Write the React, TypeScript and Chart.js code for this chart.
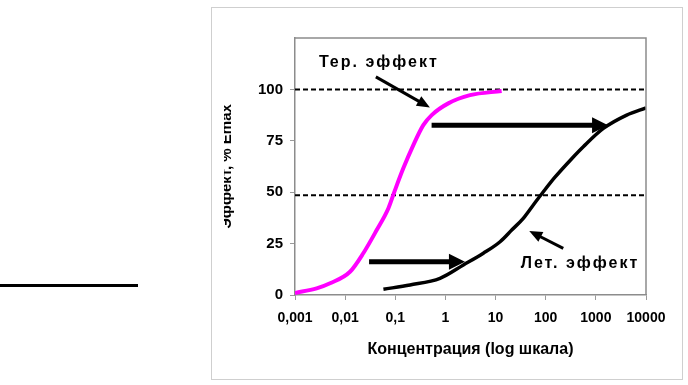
import React, { useEffect, useRef } from "react";
import { Chart, registerables } from "chart.js";

Chart.register(...registerables);

// ---- data ----
const terConc = [0.001, 0.0027, 0.005, 0.0125, 0.023, 0.0426, 0.0726, 0.0986, 0.1445, 0.229, 0.362, 0.532, 1.14, 3.09, 13.2];
const terEffect = [1.0, 3.2, 5.7, 11.3, 20.3, 31.6, 42.1, 51, 61.6, 72.9, 82.6, 87.5, 93.2, 97.2, 99.2];
const letConc = [0.058, 0.197, 0.78, 2.28, 5.7, 12.3, 21, 35.7, 56.6, 89.6, 153, 330, 562, 1410, 4120, 10000];
const letEffect = [2.8, 4.9, 8.1, 14.6, 20.3, 25.9, 31.6, 37.3, 43.8, 50.2, 57.3, 66.3, 72.1, 81, 87.5, 91];
const xTicks = [0.001, 0.01, 0.1, 1, 10, 100, 1000, 10000];
const xTickLabels = ["0,001", "0,01", "0,1", "1", "10", "100", "1000", "10000"];
const yTicks = [0, 25, 50, 75, 100];
const yMax = 125;
const refLevels = [100, 48.5];
// arrows in data units: [x0, y0, x1(tip), y1(tip)]
const shiftArrows = [
  [0.53, 82.6, 1750, 82.6],
  [0.03, 16.2, 2.45, 16.2],
];
const pointerArrows = [
  [0.041, 106.1, 0.49, 91.2],
  [224, 22.7, 47, 31.1],
];
const labelTexts = ["Тер. эффект", "Лет. эффект"];
const labelAnchors = [
  [0.047, 112.8],
  [483, 15.1],
];
const xTitle = "Концентрация (log шкала)";
const yTitle = "Эффект, % Emax";

const FONT = "'Liberation Sans', Arial, sans-serif";

function drawArrow(ctx, x0, y0, x1, y1, w, headLen, headW) {
  const dx = x1 - x0;
  const dy = y1 - y0;
  const len = Math.hypot(dx, dy);
  const ux = dx / len;
  const uy = dy / len;
  const bx = x1 - ux * headLen;
  const by = y1 - uy * headLen;
  ctx.save();
  ctx.strokeStyle = "#000";
  ctx.fillStyle = "#000";
  ctx.lineWidth = w;
  ctx.lineCap = "butt";
  ctx.beginPath();
  ctx.moveTo(x0, y0);
  ctx.lineTo(bx + ux * 1, by + uy * 1);
  ctx.stroke();
  ctx.beginPath();
  ctx.moveTo(x1, y1);
  ctx.lineTo(bx - uy * headW / 2, by + ux * headW / 2);
  ctx.lineTo(bx + uy * headW / 2, by - ux * headW / 2);
  ctx.closePath();
  ctx.fill();
  ctx.restore();
}

const decorPlugin = {
  id: "decor",
  beforeDraw(chart) {
    const ctx = chart.ctx;
    ctx.save();
    ctx.fillStyle = "#fff";
    ctx.fillRect(0, 0, chart.width, chart.height);
    ctx.restore();
  },
  afterDatasetsDraw(chart) {
    const ctx = chart.ctx;
    const xs = chart.scales.x;
    const ys = chart.scales.y;
    shiftArrows.forEach((a) => {
      drawArrow(ctx, xs.getPixelForValue(a[0]), ys.getPixelForValue(a[1]), xs.getPixelForValue(a[2]), ys.getPixelForValue(a[3]), 5, 16, 16);
    });
    pointerArrows.forEach((a) => {
      drawArrow(ctx, xs.getPixelForValue(a[0]), ys.getPixelForValue(a[1]), xs.getPixelForValue(a[2]), ys.getPixelForValue(a[3]), 3, 13, 11);
    });
    ctx.save();
    ctx.fillStyle = "#000";
    ctx.font = "bold 16px " + FONT;
    ctx.textAlign = "center";
    ctx.textBaseline = "middle";
    try {
      (ctx as any).letterSpacing = "2px";
    } catch (e) {}
    labelTexts.forEach((t, i) => {
      ctx.fillText(t, xs.getPixelForValue(labelAnchors[i][0]), ys.getPixelForValue(labelAnchors[i][1]));
    });
    ctx.restore();
  },
  afterDraw(chart) {
    const ctx = chart.ctx;
    const ca = chart.chartArea;
    ctx.save();
    // clipped left part of y title
    ctx.fillStyle = "#fff";
    ctx.fillRect(212.5, 90, 11.5, 170);
    // plot area top & right border
    ctx.strokeStyle = "#8c8c8c";
    ctx.lineWidth = 1.5;
    ctx.beginPath();
    ctx.moveTo(ca.left, ca.top);
    ctx.lineTo(ca.right, ca.top);
    ctx.lineTo(ca.right, ca.bottom);
    ctx.stroke();
    // outer frame
    ctx.strokeStyle = "#cfcfcf";
    ctx.lineWidth = 1;
    ctx.strokeRect(211.5, 7.5, 471, 372);
    // stray line at left
    ctx.strokeStyle = "#000";
    ctx.lineWidth = 3;
    ctx.beginPath();
    ctx.moveTo(0, 285.5);
    ctx.lineTo(138, 285.5);
    ctx.stroke();
    ctx.restore();
  },
};

export default function App() {
  const ref = useRef<HTMLCanvasElement | null>(null);
  useEffect(() => {
    const canvas = ref.current;
    if (!canvas) return;
    const chart = new Chart(canvas, {
      type: "line",
      data: {
        datasets: [
          {
            data: terConc.map((x, i) => ({ x, y: terEffect[i] })),
            borderColor: "#ff00ff",
            borderWidth: 4,
            pointRadius: 0,
            cubicInterpolationMode: "monotone",
            fill: false,
          },
          {
            data: letConc.map((x, i) => ({ x, y: letEffect[i] })),
            borderColor: "#000",
            borderWidth: 3.5,
            pointRadius: 0,
            cubicInterpolationMode: "monotone",
            fill: false,
          },
          ...refLevels.map((lv) => ({
            data: [
              { x: xTicks[0], y: lv },
              { x: xTicks[xTicks.length - 1], y: lv },
            ],
            borderColor: "#000",
            borderWidth: 2,
            borderDash: [5, 3],
            pointRadius: 0,
            fill: false,
          })),
        ],
      },
      options: {
        responsive: false,
        animation: false,
        events: [],
        layout: { padding: { left: 211, top: 38, right: 42, bottom: 5 } },
        plugins: { legend: { display: false }, tooltip: { enabled: false } },
        scales: {
          x: {
            type: "logarithmic",
            min: xTicks[0],
            max: xTicks[xTicks.length - 1],
            afterBuildTicks: (s) => {
              s.ticks = xTicks.map((v) => ({ value: v }));
            },
            afterFit: (s) => {
              s.height = 85;
            },
            ticks: {
              autoSkip: false,
              maxRotation: 0,
              padding: 10,
              color: "#000",
              font: { family: FONT, size: 14, weight: "bold" },
              callback: (v) => {
                const i = xTicks.findIndex((t) => Math.abs(Math.log10(t) - Math.log10(Number(v))) < 1e-6);
                return i >= 0 ? xTickLabels[i] : "";
              },
            },
            grid: { drawOnChartArea: false, drawTicks: true, tickLength: 5, color: "#9a9a9a", lineWidth: 1 },
            border: { display: true, color: "#8c8c8c", width: 1.5 },
            title: {
              display: true,
              text: xTitle,
              color: "#000",
              font: { family: FONT, size: 16, weight: "bold" },
              padding: { top: 4, bottom: 21 },
            },
          },
          y: {
            min: 0,
            max: yMax,
            afterBuildTicks: (s) => {
              s.ticks = [...yTicks, yMax].map((v) => ({ value: v }));
            },
            afterFit: (s) => {
              s.width = 84;
            },
            ticks: {
              padding: 7,
              color: "#000",
              font: { family: FONT, size: 15, weight: "bold" },
              callback: (v) => (yTicks.includes(Number(v)) ? String(v) : ""),
            },
            grid: {
              drawOnChartArea: false,
              drawTicks: true,
              tickLength: 5,
              color: (c) => (c.tick && c.tick.value === yMax ? "rgba(0,0,0,0)" : "#9a9a9a"),
            },
            border: { display: true, color: "#8c8c8c", width: 1.5 },
            title: {
              display: true,
              text: yTitle,
              color: "#000",
              font: { family: FONT, size: 15, weight: "bold" },
              padding: { top: 7, bottom: 0 },
            },
          },
        },
      },
      plugins: [decorPlugin],
    });
    return () => chart.destroy();
  }, []);
  return (
    <div style={{ position: "absolute", left: 0, top: 0, width: 688, height: 385 }}>
      <canvas ref={ref} width={688} height={385} style={{ display: "block" }} />
    </div>
  );
}
